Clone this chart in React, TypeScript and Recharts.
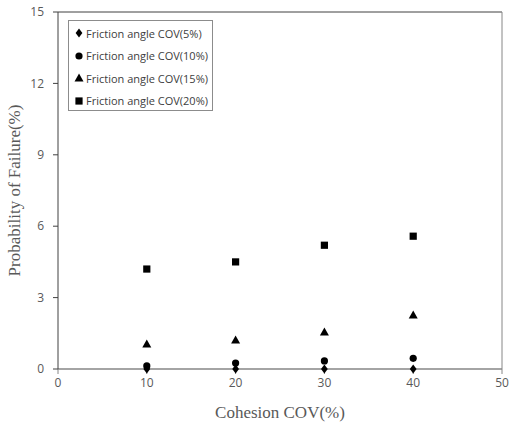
import React from "react";
import { ScatterChart, Scatter, XAxis, YAxis, ReferenceLine } from "recharts";

const cohesion = [10, 20, 30, 40];
const cov5 = [0.0, 0.0, 0.0, 0.0];
const cov10 = [0.13, 0.25, 0.34, 0.45];
const cov15 = [1.05, 1.22, 1.55, 2.27];
const cov20 = [4.2, 4.5, 5.2, 5.58];
const seriesNames = [
  "Friction angle COV(5%)",
  "Friction angle COV(10%)",
  "Friction angle COV(15%)",
  "Friction angle COV(20%)",
];
const xTicks = [0, 10, 20, 30, 40, 50];
const yTicks = [0, 3, 6, 9, 12, 15];

const toPts = (ys: number[]) => cohesion.map((x, i) => ({ x, y: ys[i] }));

const Diamond = (p: any) => {
  const { cx, cy } = p;
  const r = 4.5;
  return <path d={`M${cx},${cy - r}L${cx + r * 0.75},${cy}L${cx},${cy + r}L${cx - r * 0.75},${cy}Z`} fill="#000" />;
};
const Circle = (p: any) => <circle cx={p.cx} cy={p.cy} r={3.6} fill="#000" />;
const Tri = (p: any) => {
  const { cx, cy } = p;
  return <path d={`M${cx},${cy - 4.5}L${cx + 4.5},${cy + 3.5}L${cx - 4.5},${cy + 3.5}Z`} fill="#000" />;
};
const Sq = (p: any) => <rect x={p.cx - 3.6} y={p.cy - 3.6} width={7.2} height={7.2} fill="#000" />;

const shapes = [Diamond, Circle, Tri, Sq];

const LegendBox = () => (
  <div
    style={{
      position: "absolute",
      left: 68,
      top: 20,
      border: "1px solid #8c8c8c",
      background: "#fff",
      width: 145,
      height: 91,
      boxSizing: "border-box",
      padding: "1px 0 0 5px",
      fontFamily: "'Open Sans', sans-serif",
      fontSize: 11,
      color: "#404040",
    }}
  >
    {seriesNames.map((n, i) => {
      const S = shapes[i];
      return (
        <div key={n} style={{ height: 22.5, display: "flex", alignItems: "center", whiteSpace: "nowrap" }}>
          <svg width={10} height={10} style={{ marginRight: 2 }}>
            <S cx={5} cy={5} />
          </svg>
          <span>{n}</span>
        </div>
      );
    })}
  </div>
);

export default function App() {
  const axisColor = "#868686";
  const tickStyle = { fill: "#595959", fontSize: 12, fontFamily: "'Open Sans', sans-serif" };
  return (
    <div style={{ position: "absolute", left: 0, top: 0, width: 510, height: 424, background: "#fff" }}>
      <ScatterChart width={510} height={424} margin={{ top: 12, right: 8, bottom: 0, left: 0 }}>
        <XAxis
          type="number"
          dataKey="x"
          domain={[0, 50]}
          ticks={xTicks}
          stroke={axisColor}
          strokeWidth={1.5}
          tickLine={{ stroke: axisColor, strokeWidth: 1 }}
          tickSize={5}
          tick={tickStyle}
          tickMargin={4}
          interval={0}
          height={55}
          label={{
            value: "Cohesion COV(%)",
            position: "insideBottom",
            offset: 6,
            style: { fill: "#595959", fontSize: 17, fontFamily: "'Liberation Serif', serif" },
          }}
        />
        <YAxis
          type="number"
          dataKey="y"
          domain={[0, 15]}
          ticks={yTicks}
          stroke="#404040"
          tickLine={{ stroke: "#404040" }}
          tickSize={5}
          tickMargin={9}
          tick={tickStyle}
          interval={0}
          width={58}
          label={{
            value: "Probability of Failure(%)",
            angle: -90,
            position: "insideLeft",
            offset: 0,
            dx: 14,
            style: { fill: "#595959", fontSize: 17, fontFamily: "'Liberation Serif', serif", textAnchor: "middle" },
          }}
        />
        <ReferenceLine y={15} stroke="#404040" />
        <ReferenceLine x={50} stroke={axisColor} />
        <Scatter name={seriesNames[0]} data={toPts(cov5)} shape={Diamond} isAnimationActive={false} />
        <Scatter name={seriesNames[1]} data={toPts(cov10)} shape={Circle} isAnimationActive={false} />
        <Scatter name={seriesNames[2]} data={toPts(cov15)} shape={Tri} isAnimationActive={false} />
        <Scatter name={seriesNames[3]} data={toPts(cov20)} shape={Sq} isAnimationActive={false} />
      </ScatterChart>
      <LegendBox />
    </div>
  );
}
